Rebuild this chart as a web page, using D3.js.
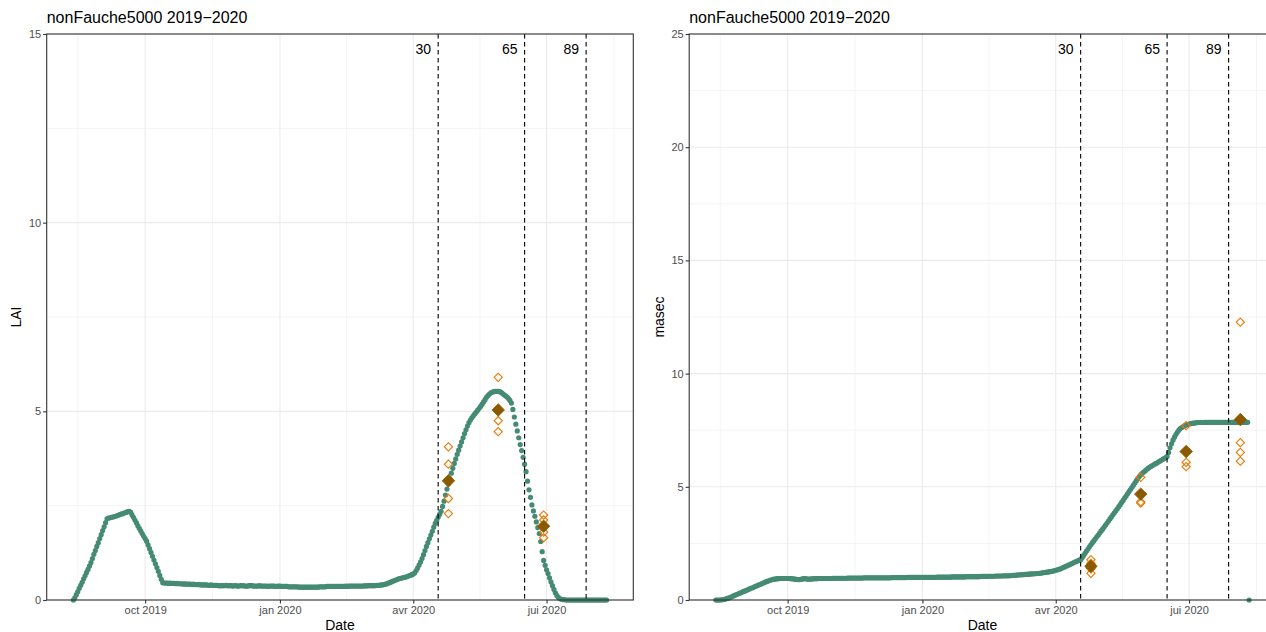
<!DOCTYPE html>
<html>
<head>
<meta charset="utf-8">
<script src="https://cdn.jsdelivr.net/npm/d3@7"></script>
<style>
  html, body { margin: 0; padding: 0; background: #ffffff; }
  svg { display: block; font-family: "Liberation Sans", Arial, Helvetica, sans-serif; }
</style>
</head>
<body>
<svg id="chart" width="1266" height="632"></svg>
<script>
// ---- data -----------------------------------------------------------------
// Daily simulation, one value per day starting on firstDay
const firstDay = "2019-08-13";

const laiSim = [
  0.00,0.06,0.14,0.22,0.31,0.39,0.47,0.56,0.64,0.73,0.81,0.90,0.99,1.10,1.21,1.31,1.42,1.52,1.63,1.73,1.84,1.94,2.05,2.15,
  2.17,2.18,2.19,2.20,2.21,2.22,2.24,2.25,2.27,2.28,2.29,2.31,2.32,2.34,2.35,
  2.33,2.26,2.19,2.12,2.05,1.97,1.90,1.83,1.76,1.69,1.63,
  1.56,1.46,1.36,1.26,1.16,1.06,0.96,0.86,0.76,0.65,0.55,0.46,
  0.45,0.45,0.45,0.44,0.45,0.44,0.44,0.44,0.43,0.44,
  0.43,0.43,0.43,0.42,0.43,0.42,0.42,0.42,0.42,0.41,
  0.42,0.41,0.41,0.41,0.41,0.40,0.40,0.40,0.40,0.40,
  0.39,0.39,0.40,0.39,0.39,0.39,0.39,0.38,
  0.38,0.38,0.38,0.38,0.39,0.38,0.38,0.38,0.38,0.37,
  0.38,0.38,0.37,0.37,0.38,0.38,0.38,0.37,0.37,0.37,
  0.38,0.38,0.38,0.37,0.37,0.37,0.37,0.38,0.37,0.37,
  0.37,0.37,0.37,0.36,0.37,0.37,0.37,0.37,0.36,0.36,
  0.37,
  0.37,0.36,0.36,0.36,0.36,0.36,0.35,0.35,0.35,0.35,
  0.35,0.35,0.35,0.34,0.34,0.34,0.34,0.34,0.34,0.34,
  0.34,0.34,0.34,0.34,0.34,0.34,0.34,0.35,0.35,0.35,
  0.35,0.35,0.36,0.36,0.36,0.36,0.36,0.36,0.36,0.36,
  0.36,0.36,0.36,0.36,0.36,0.37,0.36,
  0.37,0.37,0.37,0.37,0.37,0.37,0.37,0.37,0.37,0.37,
  0.37,0.38,0.37,0.38,0.38,0.38,0.38,0.38,0.38,0.39,
  0.39,0.39,0.40,0.40,0.41,
  0.42,0.43,0.45,0.46,0.48,0.50,0.51,0.53,0.54,0.56,
  0.57,0.58,0.59,0.60,0.61,0.62,0.64,0.65,0.67,0.69,
  0.72,0.78,0.85,0.93,1.01,1.10,1.20,1.31,1.42,1.52,1.62,1.72,1.82,1.93,2.03,2.11,2.19,2.27,2.35,
  2.48,2.62,2.78,2.94,3.08,3.22,3.36,3.49,3.62,3.74,
  3.86,3.97,4.08,4.19,4.30,4.41,4.51,4.61,4.70,4.77,
  4.83,4.88,4.93,4.98,5.03,5.08,5.13,5.19,5.25,5.31,
  5.37,5.42,5.46,5.49,5.51,5.52,5.53,5.53,5.53,5.52,
  5.50,5.47,5.44,5.41,5.38,5.34,5.29,5.22,
  5.05,4.85,4.66,4.48,4.30,4.12,3.96,3.78,3.60,3.40,
  3.15,2.92,2.72,2.52,2.36,2.22,2.07,1.92,1.76,1.55,
  1.28,1.05,0.92,0.80,0.70,0.59,0.48,0.38,0.28,0.19,
  0.12,0.07,0.04,0.02,0.01,0.01,0.00,
  0,0,0,0,0,0,0,0,0,0,0,0,0,0,0,0,0,0,0,0,0,0,0,0,0,0,0,0
];

const masecSim = [
  0.00,0.00,0.00,0.00,0.01,0.02,0.03,0.05,0.07,0.10,
  0.12,0.15,0.18,0.21,0.24,0.26,0.29,0.32,0.35,0.38,
  0.40,0.43,0.46,0.49,0.52,0.54,0.57,0.60,0.63,0.66,
  0.68,0.71,0.74,0.77,0.80,0.82,0.85,0.87,0.89,0.91,
  0.92,0.93,
  0.94,0.94,0.95,0.95,0.95,0.95,0.95,0.95,0.95,0.94,
  0.94,0.93,0.92,0.91,0.90,0.90,0.91,0.93,0.94,0.94,
  0.93,0.92,0.92,0.93,0.93,0.94,0.94,0.94,
  0.95,0.95,0.95,0.95,0.95,0.95,0.95,0.95,0.95,0.95,
  0.96,0.96,0.96,0.96,0.96,0.96,0.96,0.96,0.96,0.96,
  0.97,0.97,0.97,0.97,0.97,0.97,0.97,0.97,0.97,0.97,
  0.97,0.98,0.98,0.98,0.98,0.98,0.98,0.98,0.98,0.98,
  0.98,0.98,0.98,0.98,0.98,0.98,0.98,0.98,0.98,0.98,
  0.99,0.99,0.99,0.99,0.99,0.99,0.99,0.99,0.99,0.99,
  0.99,1.00,1.00,1.00,1.00,1.00,1.00,1.00,1.00,1.00,1.00,
  1.00,1.00,1.00,1.00,1.00,1.00,1.00,1.00,1.00,1.00,
  1.01,1.01,1.01,1.01,1.01,1.01,1.01,1.01,1.01,1.01,
  1.02,1.02,1.02,1.02,1.02,1.02,1.02,1.02,1.02,1.02,
  1.03,1.03,1.03,1.03,1.03,1.03,1.03,1.03,1.03,1.03,
  1.04,1.04,1.04,1.04,1.04,1.05,1.05,1.05,1.05,1.05,
  1.06,1.06,1.06,1.06,1.06,1.07,1.07,1.07,1.07,1.07,
  1.08,1.08,1.09,1.09,1.10,1.10,1.11,1.11,1.12,1.12,
  1.13,1.13,1.14,1.14,1.15,1.15,1.16,1.16,1.17,1.17,
  1.18,1.19,1.20,1.21,1.22,1.23,1.24,1.25,1.26,1.28,
  1.29,1.31,1.33,1.35,1.37,1.40,1.43,1.46,1.49,1.52,
  1.55,1.58,1.61,1.64,1.67,1.70,1.73,1.76,
  1.78,1.87,1.97,2.06,2.16,2.25,2.35,2.44,2.53,2.61,
  2.70,2.79,2.87,2.96,3.05,3.13,3.22,3.31,3.40,3.49,
  3.58,3.67,3.76,3.85,3.94,4.03,4.12,4.21,4.31,4.40,
  4.50,4.59,4.69,4.79,4.88,4.98,5.07,5.17,5.27,5.36,
  5.45,5.53,5.59,5.65,5.70,5.76,5.81,5.86,5.90,5.94,
  5.98,6.02,6.05,6.09,6.13,6.17,6.21,6.25,6.29,6.34,
  6.52,6.72,6.90,7.06,7.19,7.31,7.41,7.50,7.57,7.62,
  7.66,7.70,7.73,7.75,7.77,7.79,7.80,7.81,7.82,7.83,
  7.84,7.84,7.84,7.84,7.84,
  7.85,7.85,7.85,7.85,7.85,7.85,7.85,7.85,7.85,7.85,
  7.85,7.85,7.85,7.85,7.85,7.85,7.85,7.85,7.85,7.85,
  7.85,7.85,7.85,7.85,7.85,7.85,7.85,7.85,7.85,7.85,
  0.00
];

// Field measurements (replicates) per sampling date
const obsDates = ["2020-04-25", "2020-05-29", "2020-06-29", "2020-08-05"];
const laiObs = [
  [4.06, 3.60, 2.69, 2.29],
  [5.90, 4.75, 4.46],
  [2.25, 2.12, 1.80, 1.65],
  []
];
const masecObs = [
  [1.78, 1.62, 1.38, 1.18],
  [5.42, 4.33, 4.28],
  [7.70, 6.08, 5.89],
  [12.27, 6.95, 6.52, 6.13]
];

// Phenological stages (BBCH codes)
const stageDates = ["2020-04-18", "2020-06-16", "2020-07-28"];
const stageLabels = ["30", "65", "89"];

// Axis breaks
const tickDates = ["2019-10-01", "2020-01-01", "2020-04-01", "2020-07-01"];
const tickLabels = ["oct 2019", "jan 2020", "avr 2020", "jui 2020"];
const laiTicks = [0, 5, 10, 15];
const masecTicks = [0, 5, 10, 15, 20, 25];
const titleText = "nonFauche5000 2019\u22122020";

// ---- drawing ----------------------------------------------------------------
const parse = d3.utcParse("%Y-%m-%d");
const day0 = parse(firstDay);

const svg = d3.select("#chart");

const panelW = 586.6, panelH = 566, panelTop = 34;
const colSim = "#458B74", colObs = "#EE7600", colMean = "#8B5A00";
const grid = "#EBEBEB", ink = "#333333", tickInk = "#4D4D4D";

function drawPanel(left, sim, obs, yTicks, yLabel, yLabelX) {
  const g = svg.append("g").attr("transform", `translate(${left},${panelTop})`);

  const simData = sim.map((v, i) => ({ date: d3.utcDay.offset(day0, i), v }));
  const ext = d3.extent(simData, d => d.date);
  const span = ext[1] - ext[0];
  const x = d3.scaleUtc()
    .domain([new Date(+ext[0] - 0.05 * span), new Date(+ext[1] + 0.05 * span)])
    .range([0, panelW]);
  const yMax = yTicks[yTicks.length - 1];
  const y = d3.scaleLinear().domain([0, yMax]).range([panelH, 0]);

  // minor grid (midpoints between breaks)
  const majors = tickDates.map(parse);
  const edges = [d3.utcMonth.offset(majors[0], -3), ...majors, d3.utcMonth.offset(majors[majors.length - 1], 3)];
  const minorX = d3.pairs(edges).map(([a, b]) => new Date((+a + +b) / 2))
    .filter(d => d >= x.domain()[0] && d <= x.domain()[1]);
  const minorY = d3.pairs(yTicks).map(([a, b]) => (a + b) / 2);

  g.selectAll(".gmx").data(minorX).join("line")
    .attr("x1", d => x(d)).attr("x2", d => x(d)).attr("y1", 0).attr("y2", panelH)
    .attr("stroke", grid).attr("stroke-width", 0.55);
  g.selectAll(".gmy").data(minorY).join("line")
    .attr("y1", d => y(d)).attr("y2", d => y(d)).attr("x1", 0).attr("x2", panelW)
    .attr("stroke", grid).attr("stroke-width", 0.55);
  g.selectAll(".gMx").data(majors).join("line")
    .attr("x1", d => x(d)).attr("x2", d => x(d)).attr("y1", 0).attr("y2", panelH)
    .attr("stroke", grid).attr("stroke-width", 1.1);
  g.selectAll(".gMy").data(yTicks).join("line")
    .attr("y1", d => y(d)).attr("y2", d => y(d)).attr("x1", 0).attr("x2", panelW)
    .attr("stroke", grid).attr("stroke-width", 1.1);

  // simulated daily values
  g.append("g").selectAll("circle").data(simData).join("circle")
    .attr("cx", d => x(d.date)).attr("cy", d => y(d.v)).attr("r", 2.6)
    .attr("fill", colSim);

  // stage lines
  const stages = stageDates.map((d, i) => ({ date: parse(d), label: stageLabels[i] }));
  g.selectAll(".stage").data(stages).join("line")
    .attr("x1", d => x(d.date)).attr("x2", d => x(d.date))
    .attr("y1", 0).attr("y2", panelH)
    .attr("stroke", "#000").attr("stroke-width", 1.1)
    .attr("stroke-dasharray", "4.5,3.5");
  g.selectAll(".stageLab").data(stages).join("text")
    .attr("x", d => x(d.date) - 7).attr("y", 20)
    .attr("text-anchor", "end").attr("font-size", 14).attr("fill", "#000")
    .text(d => d.label);

  // observations: replicates (open) and their mean (filled)
  const reps = [], means = [];
  obs.forEach((vals, i) => {
    const date = parse(obsDates[i]);
    vals.forEach(v => reps.push({ date, v }));
    if (vals.length) means.push({ date, v: d3.mean(vals) });
  });
  const sq = d3.symbol().type(d3.symbolSquare);
  g.append("g").selectAll("path").data(reps).join("path")
    .attr("d", sq.size(34)())
    .attr("transform", d => `translate(${x(d.date)},${y(d.v)}) rotate(45)`)
    .attr("fill", "none").attr("stroke", colObs).attr("stroke-width", 1.1);
  g.append("g").selectAll("path").data(means).join("path")
    .attr("d", sq.size(78)())
    .attr("transform", d => `translate(${x(d.date)},${y(d.v)}) rotate(45)`)
    .attr("fill", colMean).attr("stroke", colMean).attr("stroke-width", 0.8);

  // panel border
  g.append("rect").attr("width", panelW).attr("height", panelH)
    .attr("fill", "none").attr("stroke", ink).attr("stroke-width", 1.1);

  // axes
  const xAxis = d3.axisBottom(x).tickValues(majors).tickSize(3.6).tickSizeOuter(0)
    .tickFormat((d, i) => tickLabels[i]);
  const gx = g.append("g").attr("transform", `translate(0,${panelH})`).call(xAxis);
  gx.select(".domain").remove();
  gx.selectAll(".tick line").attr("stroke", ink).attr("stroke-width", 1.1);
  gx.selectAll(".tick text").style("fill", tickInk).attr("font-size", 11)
    .attr("font-family", null).attr("y", 6).attr("dy", "0.71em");

  const yAxis = d3.axisLeft(y).tickValues(yTicks).tickSize(3.6).tickSizeOuter(0);
  const gy = g.append("g").call(yAxis);
  gy.select(".domain").remove();
  gy.selectAll(".tick line").attr("stroke", ink).attr("stroke-width", 1.1);
  gy.selectAll(".tick text").style("fill", tickInk).attr("font-size", 11)
    .attr("font-family", null).attr("x", -5.5);

  // labels
  svg.append("text").attr("x", left).attr("y", 23)
    .attr("font-size", 16).attr("fill", "#000").text(titleText);
  svg.append("text").attr("x", left + panelW / 2).attr("y", 629.5)
    .attr("text-anchor", "middle").attr("font-size", 14).attr("fill", "#000").text("Date");
  svg.append("text")
    .attr("transform", `translate(${yLabelX},${panelTop + panelH / 2}) rotate(-90)`)
    .attr("text-anchor", "middle").attr("font-size", 14).attr("fill", "#000").text(yLabel);
}

drawPanel(46.7, laiSim, laiObs, laiTicks, "LAI", 21);
drawPanel(689.2, masecSim, masecObs, masecTicks, "masec", 664);
</script>
</body>
</html>
